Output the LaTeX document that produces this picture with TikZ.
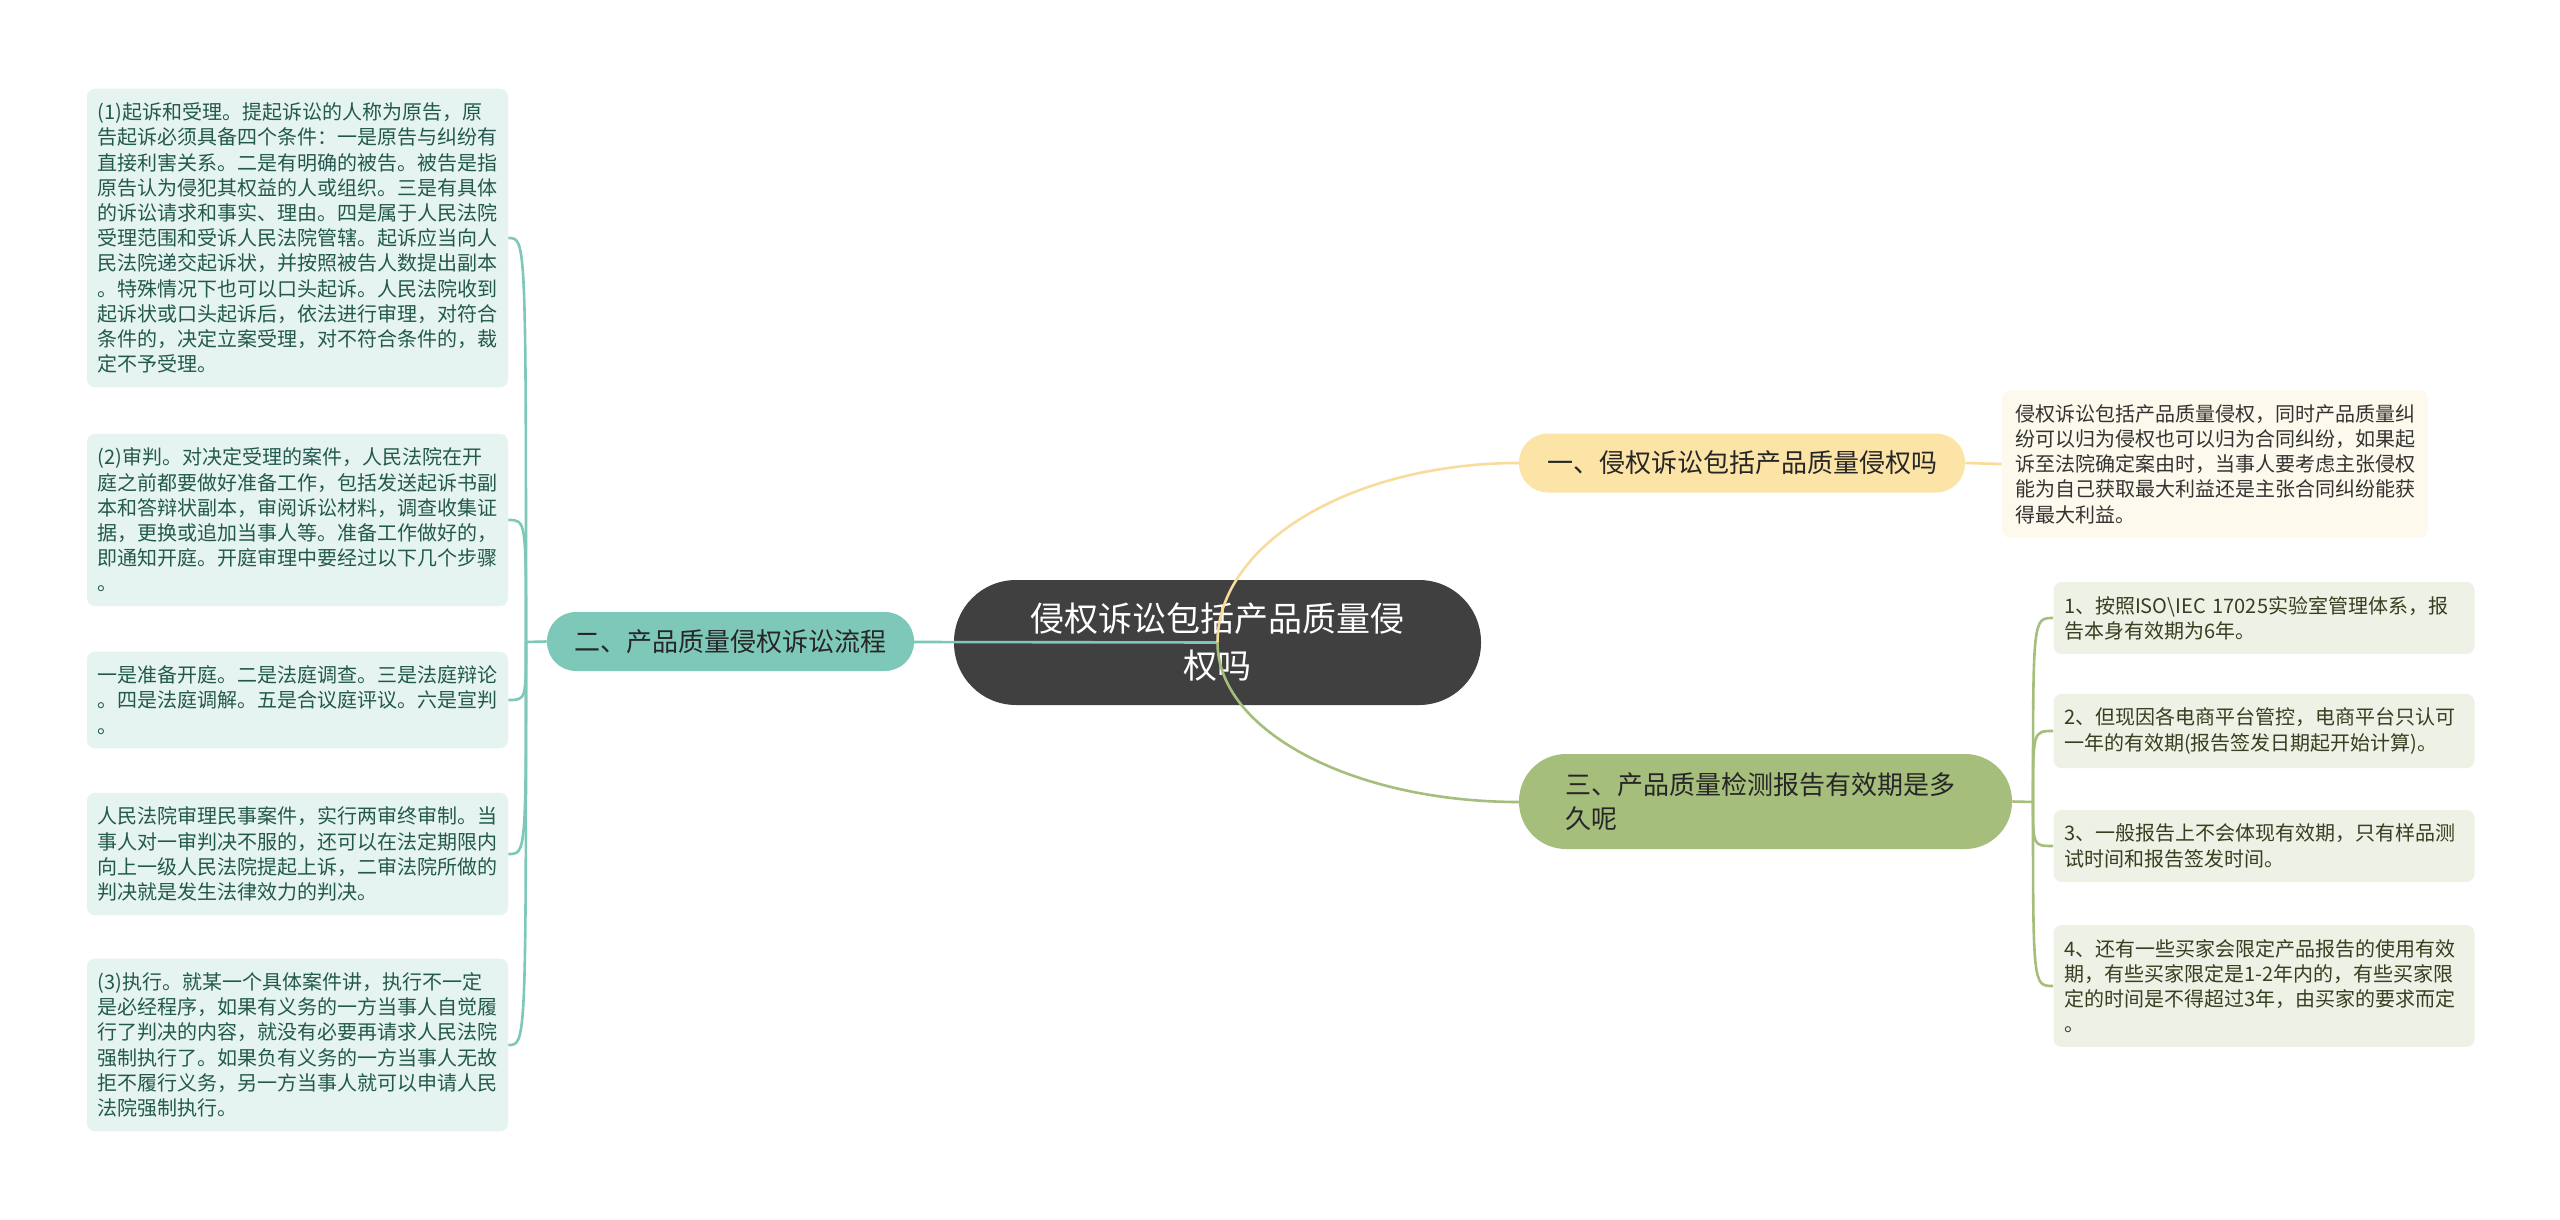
\documentclass[tikz,border=0pt]{standalone}
\usepackage{fontspec}
\setmainfont{Noto Sans CJK SC}
\definecolor{rootgray}{HTML}{404040}
\definecolor{tealbr}{HTML}{7DC8B8}
\definecolor{tealleaf}{HTML}{E5F4F0}
\definecolor{tealtext}{HTML}{23594D}
\definecolor{ylwbr}{HTML}{FCE3A6}
\definecolor{ylwline}{HTML}{F8DC9C}
\definecolor{ylwleaf}{HTML}{FDF9EC}
\definecolor{grnbr}{HTML}{A6BE7B}
\definecolor{grnleaf}{HTML}{EEF1E5}
\definecolor{grntext}{HTML}{34401F}

\begin{document}
\begin{tikzpicture}[x=0.5pt,y=-0.5pt,
	root/.style={fill=rootgray,text=white,rounded corners=31pt,minimum width=263.5pt,minimum height=62.5pt,align=center,font=\fontsize{17}{23.5}\selectfont},
	branch/.style={rounded corners=14.5pt,minimum height=29.5pt,inner xsep=0pt,font=\fontsize{13}{17}\selectfont,text=black!85},
	leaf/.style={rounded corners=4pt,text width=200pt,inner xsep=5.25pt,inner ysep=7pt,align=left,font=\fontsize{10}{12.6}\selectfont},
	tealleafbox/.style={leaf,fill=tealleaf,text=tealtext},
	grnleafbox/.style={leaf,fill=grnleaf,text=grntext},
	link/.style={line width=1.3pt}]
				\useasboundingbox (0,0) rectangle (2560,1220);
				\fill[white] (0,0) rectangle (2560,1220);
				\node[root] (root) at (1217.5,642.5) {侵权诉讼包括产品质量侵\\权吗};
				\draw[link,tealbr] (root.center) -- (914,642);
				\draw[link,ylwline] (root.center) .. controls +(0,-99) and +(-167,0) .. (1519,463);
				\draw[link,grnbr] (root.center) .. controls +(0,88) and +(-167,0) .. (1519,802);
				\node[branch,fill=tealbr,minimum width=183.5pt] (b2) at (730.5,641.5) {二、产品质量侵权诉讼流程};
				\node[branch,fill=ylwbr,minimum width=223pt] (b1) at (1742,463) {一、侵权诉讼包括产品质量侵权吗};
				\node[branch,fill=grnbr,rounded corners=23.5pt,minimum height=47.5pt,text width=200pt,inner xsep=23.25pt,align=left] (b3) at (1765.5,801.5) {三、产品质量检测报告有效期是多\\久呢};
				\node[leaf,fill=ylwleaf,text=black!80,inner xsep=6.5pt] (a1) at (2215,464) {侵权诉讼包括产品质量侵权，同时产品质量纠\\纷可以归为侵权也可以归为合同纠纷，如果起\\诉至法院确定案由时，当事人要考虑主张侵权\\能为自己获取最大利益还是主张合同纠纷能获\\得最大利益。};
				\node[tealleafbox] (l1) at (297.5,238) {(1)起诉和受理。提起诉讼的人称为原告，原\\告起诉必须具备四个条件：一是原告与纠纷有\\直接利害关系。二是有明确的被告。被告是指\\原告认为侵犯其权益的人或组织。三是有具体\\的诉讼请求和事实、理由。四是属于人民法院\\受理范围和受诉人民法院管辖。起诉应当向人\\民法院递交起诉状，并按照被告人数提出副本\\。特殊情况下也可以口头起诉。人民法院收到\\起诉状或口头起诉后，依法进行审理，对符合\\条件的，决定立案受理，对不符合条件的，裁\\定不予受理。};
				\node[tealleafbox] (l2) at (297.5,520) {(2)审判。对决定受理的案件，人民法院在开\\庭之前都要做好准备工作，包括发送起诉书副\\本和答辩状副本，审阅诉讼材料，调查收集证\\据，更换或追加当事人等。准备工作做好的，\\即通知开庭。开庭审理中要经过以下几个步骤\\。};
				\node[tealleafbox] (l3) at (297.5,700) {一是准备开庭。二是法庭调查。三是法庭辩论\\。四是法庭调解。五是合议庭评议。六是宣判\\。};
				\node[tealleafbox] (l4) at (297.5,854) {人民法院审理民事案件，实行两审终审制。当\\事人对一审判决不服的，还可以在法定期限内\\向上一级人民法院提起上诉，二审法院所做的\\判决就是发生法律效力的判决。};
				\node[tealleafbox] (l5) at (297.5,1045) {(3)执行。就某一个具体案件讲，执行不一定\\是必经程序，如果有义务的一方当事人自觉履\\行了判决的内容，就没有必要再请求人民法院\\强制执行了。如果负有义务的一方当事人无故\\拒不履行义务，另一方当事人就可以申请人民\\法院强制执行。};
				\node[grnleafbox] (r1) at (2264,618) {1、按照ISO\textbackslash IEC 17025实验室管理体系，报\\告本身有效期为6年。};
				\node[grnleafbox] (r2) at (2264,731) {2、但现因各电商平台管控，电商平台只认可\\一年的有效期(报告签发日期起开始计算)。};
				\node[grnleafbox] (r3) at (2264,846) {3、一般报告上不会体现有效期，只有样品测\\试时间和报告签发时间。};
				\node[grnleafbox] (r4) at (2264,986) {4、还有一些买家会限定产品报告的使用有效\\期，有些买家限定是1-2年内的，有些买家限\\定的时间是不得超过3年，由买家的要求而定\\。};
				\coordinate (jl) at (526,642);
				\coordinate (jr) at (2033,802);
				\draw[link,ylwline] (b1.east) -- (a1.west);
				\draw[link,tealbr] (b2.west) -- (jl);
				\foreach \n in {l1,l2,l3,l4,l5}
					\draw[link,tealbr] (jl) .. controls (jl |- \n.east) .. (\n.east);
				\draw[link,grnbr] (b3.east) -- (jr);
				\foreach \n in {r1,r2,r3,r4}
					\draw[link,grnbr] (jr) .. controls (jr |- \n.west) .. (\n.west);
			\end{tikzpicture}
\end{document}
